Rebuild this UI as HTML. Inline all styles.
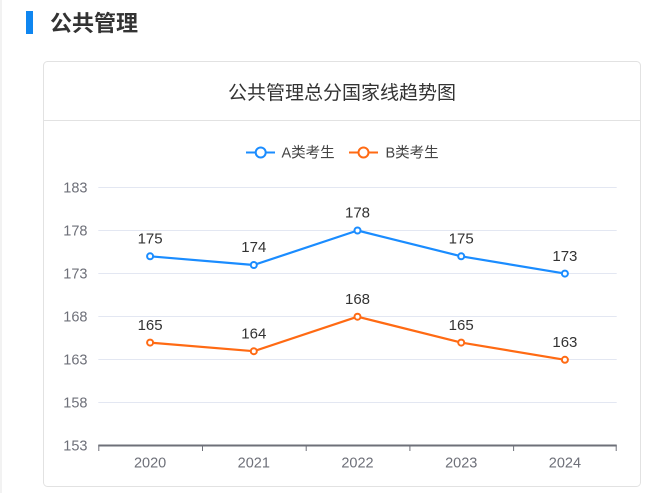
<!DOCTYPE html>
<html><head><meta charset="utf-8">
<style>
html,body{margin:0;padding:0;background:#fff;}
body{width:670px;height:493px;overflow:hidden;position:relative;font-family:"Liberation Sans","Noto Sans CJK SC",sans-serif;}
svg{position:absolute;left:0;top:0;}
</style></head>
<body>
<svg width="670" height="493" viewBox="0 0 670 493" xmlns="http://www.w3.org/2000/svg">
  <rect x="0" y="0" width="670" height="493" fill="#fff"/>
  <rect x="0.5" y="0" width="1" height="493" fill="#e6e6e6"/>
  <!-- header -->
  <rect x="26" y="11" width="7" height="23" fill="#0f86f0"/>
  <text x="50" y="31" font-family="'Liberation Sans','Noto Sans CJK SC',sans-serif" font-size="22" font-weight="bold" fill="#333">公共管理</text>
  <!-- card -->
  <rect x="43.5" y="61.5" width="597" height="425" rx="4" ry="4" fill="#fff" stroke="#e2e2e2" stroke-width="1"/>
  <line x1="44" y1="120.5" x2="640" y2="120.5" stroke="#e2e2e2" stroke-width="1"/>
  <text x="342" y="99" text-anchor="middle" font-family="'Liberation Sans','Noto Sans CJK SC',sans-serif" font-size="19" fill="#333">公共管理总分国家线趋势图</text>

  <!-- legend -->
  <g font-family="'Liberation Sans','Noto Sans CJK SC',sans-serif" font-size="14.5" fill="#444">
    <line x1="246" y1="152.5" x2="275" y2="152.5" stroke="#1a8cff" stroke-width="2"/>
    <circle cx="260.7" cy="152.5" r="5" fill="#fff" stroke="#1a8cff" stroke-width="2"/>
    <text x="281.5" y="157.5">A类考生</text>
    <line x1="349" y1="152.5" x2="378" y2="152.5" stroke="#ff6a13" stroke-width="2"/>
    <circle cx="363.5" cy="152.5" r="5" fill="#fff" stroke="#ff6a13" stroke-width="2"/>
    <text x="385.5" y="157.5">B类考生</text>
  </g>

  <!-- grid -->
  <g stroke="#e3e7f2" stroke-width="1">
    <line x1="98.3" y1="187.5" x2="616.7" y2="187.5"/>
    <line x1="98.3" y1="230.5" x2="616.7" y2="230.5"/>
    <line x1="98.3" y1="273.5" x2="616.7" y2="273.5"/>
    <line x1="98.3" y1="316.5" x2="616.7" y2="316.5"/>
    <line x1="98.3" y1="359.5" x2="616.7" y2="359.5"/>
    <line x1="98.3" y1="402.5" x2="616.7" y2="402.5"/>
  </g>
  <!-- x axis -->
  <line x1="98.3" y1="445.5" x2="616.7" y2="445.5" stroke="#6e7079" stroke-width="2"/>
  <g stroke="#6e7079" stroke-width="1">
    <line x1="98.8" y1="445" x2="98.8" y2="451"/>
    <line x1="202.5" y1="445" x2="202.5" y2="451"/>
    <line x1="306.2" y1="445" x2="306.2" y2="451"/>
    <line x1="409.9" y1="445" x2="409.9" y2="451"/>
    <line x1="513.6" y1="445" x2="513.6" y2="451"/>
    <line x1="616.2" y1="445" x2="616.2" y2="451"/>
  </g>
  <!-- y labels -->
  <g font-family="'Liberation Sans',sans-serif" font-size="14.5" fill="#6e7079" text-anchor="end">
    <text x="87.5" y="192.7">183</text>
    <text x="87.5" y="235.7">178</text>
    <text x="87.5" y="278.7">173</text>
    <text x="87.5" y="321.7">168</text>
    <text x="87.5" y="364.7">163</text>
    <text x="87.5" y="407.7">158</text>
    <text x="87.5" y="450.5">153</text>
  </g>
  <!-- x labels -->
  <g font-family="'Liberation Sans',sans-serif" font-size="14.5" fill="#6e7079" text-anchor="middle">
    <text x="150.1" y="467.5">2020</text>
    <text x="253.8" y="467.5">2021</text>
    <text x="357.5" y="467.5">2022</text>
    <text x="461.2" y="467.5">2023</text>
    <text x="564.9" y="467.5">2024</text>
  </g>

  <!-- series A -->
  <polyline points="150.1,256.3 253.8,265 357.5,230.5 461.2,256.3 564.9,273.6" fill="none" stroke="#1a8cff" stroke-width="2.2" stroke-linejoin="round"/>
  <g fill="#fff" stroke="#1a8cff" stroke-width="2">
    <circle cx="150.1" cy="256.3" r="3"/>
    <circle cx="253.8" cy="265" r="3"/>
    <circle cx="357.5" cy="230.5" r="3"/>
    <circle cx="461.2" cy="256.3" r="3"/>
    <circle cx="564.9" cy="273.6" r="3"/>
  </g>
  <!-- series B -->
  <polyline points="150.1,342.6 253.8,351.2 357.5,316.7 461.2,342.6 564.9,359.8" fill="none" stroke="#ff6a13" stroke-width="2.2" stroke-linejoin="round"/>
  <g fill="#fff" stroke="#ff6a13" stroke-width="2">
    <circle cx="150.1" cy="342.6" r="3"/>
    <circle cx="253.8" cy="351.2" r="3"/>
    <circle cx="357.5" cy="316.7" r="3"/>
    <circle cx="461.2" cy="342.6" r="3"/>
    <circle cx="564.9" cy="359.8" r="3"/>
  </g>

  <!-- data labels -->
  <g font-family="'Liberation Sans',sans-serif" font-size="15" fill="#333" text-anchor="middle">
    <text x="150.1" y="243.5">175</text>
    <text x="253.8" y="252.2">174</text>
    <text x="357.5" y="217.7">178</text>
    <text x="461.2" y="243.5">175</text>
    <text x="564.9" y="260.8">173</text>
    <text x="150.1" y="329.8">165</text>
    <text x="253.8" y="338.4">164</text>
    <text x="357.5" y="303.9">168</text>
    <text x="461.2" y="329.8">165</text>
    <text x="564.9" y="347">163</text>
  </g>
</svg>
</body></html>
